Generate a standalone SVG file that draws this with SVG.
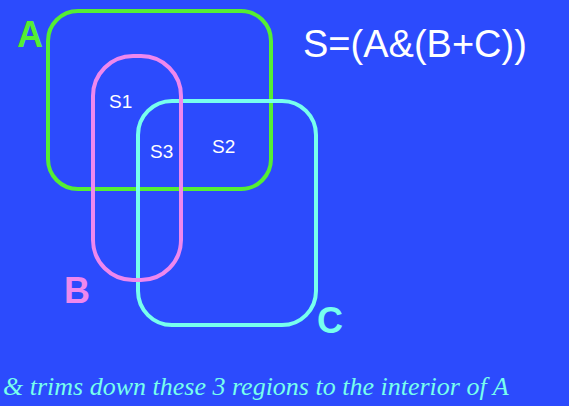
<svg xmlns="http://www.w3.org/2000/svg" width="569" height="406" viewBox="0 0 569 406">
<style>
.set{fill:none;stroke-width:4}
.lbl{font-family:"Liberation Sans",Arial,sans-serif;font-weight:bold;font-size:36px}
.s{font-family:"Liberation Sans",Arial,sans-serif;font-size:19px;fill:#ffffff}
</style>
<rect x="0" y="0" width="569" height="406" fill="#2c4bfd"/>
<g id="setA">
<rect class="set" x="48" y="11" width="223" height="178" rx="30" stroke="#55ee33"/>
<text class="lbl" x="17" y="47" fill="#55ee33">A</text>
</g>
<g id="setC">
<rect class="set" x="138" y="101" width="178" height="224" rx="34" stroke="#77ffee"/>
<text class="lbl" x="317" y="333" fill="#77ffee">C</text>
</g>
<g id="setB">
<rect class="set" x="93" y="56" width="88" height="224" rx="40" stroke="#ee88ee"/>
<text class="lbl" x="64" y="303" fill="#ee88ee">B</text>
</g>
<g id="regions">
<text class="s" x="109" y="108">S1</text>
<text class="s" x="150" y="158">S3</text>
<text class="s" x="212" y="153">S2</text>
</g>
<text x="303" y="57" font-family="Liberation Sans,Arial,sans-serif" font-size="38" fill="#ffffff">S=(A&amp;(B+C))</text>
<text x="3" y="395" font-family="Liberation Serif,Times New Roman,serif" font-style="italic" font-size="26" fill="#77ffee">&amp; trims down these 3 regions to the interior of A</text>
</svg>
